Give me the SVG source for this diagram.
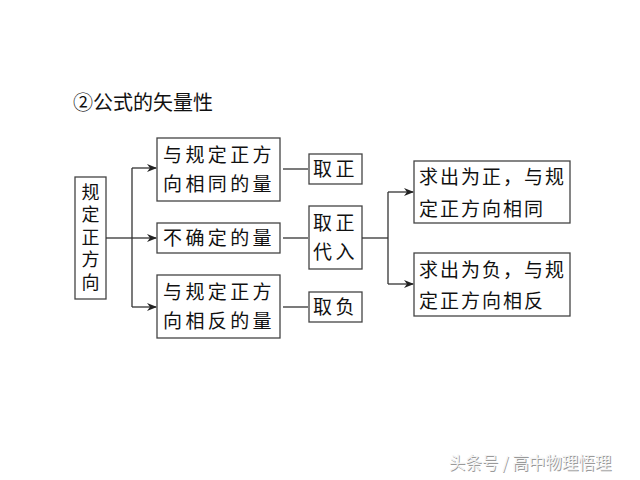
<svg xmlns="http://www.w3.org/2000/svg" width="640" height="480" viewBox="0 0 640 480">
<style>
.box{fill:#fff;stroke:#444;stroke-width:1.3}
.t{font-family:"Noto Sans CJK SC","Noto Sans CJK JP",sans-serif;font-size:19px;fill:#111;letter-spacing:3.4px}
.v{font-family:"Noto Sans CJK SC","Noto Sans CJK JP",sans-serif;font-size:18px;fill:#111;writing-mode:vertical-rl;letter-spacing:4.5px}
.ln{fill:none;stroke:#333;stroke-width:1.3}
</style>
<defs>
<marker id="ar" markerWidth="10" markerHeight="8" refX="9" refY="4" orient="auto" markerUnits="userSpaceOnUse">
<path d="M0,0 L10,4 L0,8 L3,4 Z" fill="#222"/>
</marker>
</defs>
<rect width="640" height="480" fill="#fff"/>
<text x="73" y="110" style="font-family:'Noto Sans CJK SC',sans-serif;font-size:20px;fill:#111">②公式的矢量性</text>

<g id="n-left">
<rect class="box" x="75" y="177" width="31" height="122"/>
<text class="v" x="90.5" y="183">规定正方向</text>
</g>
<g id="n-same">
<rect class="box" x="157" y="138" width="123" height="63"/>
<text class="t"><tspan x="163" y="162">与规定正方</tspan><tspan x="163" y="191">向相同的量</tspan></text>
</g>
<g id="n-unknown">
<rect class="box" x="157" y="223" width="123" height="30"/>
<text class="t" x="163" y="245">不确定的量</text>
</g>
<g id="n-opp">
<rect class="box" x="157" y="275" width="123" height="63"/>
<text class="t"><tspan x="163" y="299">与规定正方</tspan><tspan x="163" y="328">向相反的量</tspan></text>
</g>
<g id="n-pos">
<rect class="box" x="309" y="154" width="53" height="30"/>
<text class="t" x="313" y="176">取正</text>
</g>
<g id="n-sub">
<rect class="box" x="309" y="206" width="53" height="63"/>
<text class="t"><tspan x="313" y="230">取正</tspan><tspan x="313" y="259">代入</tspan></text>
</g>
<g id="n-neg">
<rect class="box" x="309" y="292" width="53" height="30"/>
<text class="t" x="313" y="314">取负</text>
</g>
<g id="n-r1">
<rect class="box" x="414" y="161" width="156" height="62"/>
<text class="t" style="letter-spacing:2px"><tspan x="419" y="184">求出为正，与规</tspan><tspan x="419" y="216">定正方向相同</tspan></text>
</g>
<g id="n-r2">
<rect class="box" x="414" y="253" width="156" height="63"/>
<text class="t" style="letter-spacing:2px"><tspan x="419" y="277">求出为负，与规</tspan><tspan x="419" y="308">定正方向相反</tspan></text>
</g>

<g id="connectors">
<path class="ln" d="M106,238 H132"/>
<path class="ln" d="M132,168 V307"/>
<path class="ln" d="M132,168 H156" marker-end="url(#ar)"/>
<path class="ln" d="M132,238 H156" marker-end="url(#ar)"/>
<path class="ln" d="M132,307 H156" marker-end="url(#ar)"/>
<path class="ln" d="M283,169 H308"/>
<path class="ln" d="M283,238 H308"/>
<path class="ln" d="M283,307 H308"/>
<path class="ln" d="M362,238 H388"/>
<path class="ln" d="M388,192 V284"/>
<path class="ln" d="M388,192 H413" marker-end="url(#ar)"/>
<path class="ln" d="M388,284 H413" marker-end="url(#ar)"/>
</g>

<text x="449" y="469" style="font-family:'Noto Sans CJK SC',sans-serif;font-size:16.5px;fill:#9a9a9a" dx="0.8" dy="0.8">头条号 / 高中物理悟理</text>
<text x="449" y="469" style="font-family:'Noto Sans CJK SC',sans-serif;font-size:16.5px;fill:#f4f4f4">头条号 / 高中物理悟理</text>
</svg>
